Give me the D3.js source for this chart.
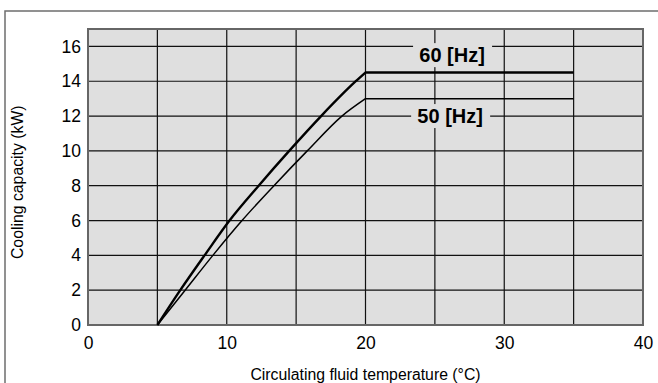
<!DOCTYPE html>
<html>
<head>
<meta charset="utf-8">
<script src="https://cdn.jsdelivr.net/npm/d3@7"></script>
<style>
  body { margin: 0; background: #fff; }
  svg { display: block; font-family: "Liberation Sans", Arial, sans-serif; }
</style>
</head>
<body>
<script>
const width = 658;
const height = 383;

// series
const temp60 = [5, 6.65, 8.4, 10.2, 12.3, 14.5, 16.8, 19.3, 20, 35];
const cap60 = [0, 2, 4, 6, 8, 10, 12, 14, 14.5, 14.5];
const temp50 = [5, 7.0, 9.0, 11.1, 13.4, 15.8, 18.3, 20, 35];
const cap50 = [0, 2, 4, 6, 8, 10, 12, 13, 13];
const xTicks = [0, 10, 20, 30, 40];
const yTicks = [0, 2, 4, 6, 8, 10, 12, 14, 16];
const xGrid = [5, 10, 15, 20, 25, 30, 35];
const yGrid = [2, 4, 6, 8, 10, 12, 14, 16];
const breakTemp = 20;

const margin = {left: 88, right: 15, top: 29, bottom: 58};

const x = d3.scaleLinear().domain([0, 40]).range([margin.left, width - margin.right]);
const y = d3.scaleLinear().domain([0, 17]).range([height - margin.bottom, margin.top]);

const svg = d3.select("body").append("svg")
    .attr("width", width)
    .attr("height", height);

// outer frame, runs off the right and bottom edges
svg.append("rect")
    .attr("x", 5).attr("y", 11)
    .attr("width", width + 20).attr("height", height + 20)
    .attr("fill", "none")
    .attr("stroke", "#6e6e6e")
    .attr("stroke-width", 1.5);

svg.append("rect")
    .attr("x", x(0)).attr("y", y(17))
    .attr("width", x(40) - x(0)).attr("height", y(0) - y(17))
    .attr("fill", "#dfdfdf");

const grid = svg.append("g")
    .attr("stroke", "#111")
    .attr("stroke-width", 1.2);

grid.selectAll(".vx")
  .data(xGrid)
  .join("line")
    .attr("x1", d => x(d)).attr("x2", d => x(d))
    .attr("y1", y(0)).attr("y2", y(17));

grid.selectAll(".hy")
  .data(yGrid)
  .join("line")
    .attr("x1", x(0)).attr("x2", x(40))
    .attr("y1", d => y(d)).attr("y2", d => y(d));

svg.append("rect")
    .attr("x", x(0)).attr("y", y(17))
    .attr("width", x(40) - x(0)).attr("height", y(0) - y(17))
    .attr("fill", "none")
    .attr("stroke", "#666")
    .attr("stroke-width", 2);

const rise = d3.line()
    .x(d => x(d[0]))
    .y(d => y(d[1]))
    .curve(d3.curveMonotoneX);
const flat = d3.line()
    .x(d => x(d[0]))
    .y(d => y(d[1]));

const series = [
  {pts: d3.zip(temp50, cap50), w: 1.5},
  {pts: d3.zip(temp60, cap60), w: 2.4}
];

series.forEach(s => {
  const up = s.pts.filter(p => p[0] <= breakTemp);
  const rest = s.pts.filter(p => p[0] >= breakTemp);
  svg.append("path")
      .attr("d", rise(up) + flat(rest).replace(/^M/, "L"))
      .attr("fill", "none")
      .attr("stroke", "#000")
      .attr("stroke-linejoin", "miter")
      .attr("stroke-width", s.w);
});

// series labels sit on a patch of background
const labels = [
  {text: "60 [Hz]", t: 26.24, v: 15.5},
  {text: "50 [Hz]", t: 26.1, v: 12}
];
const lab = svg.append("g").selectAll("g")
  .data(labels)
  .join("g")
    .attr("transform", d => `translate(${x(d.t)},${y(d.v)})`);
lab.append("rect")
    .attr("x", -39).attr("y", -12)
    .attr("width", 79).attr("height", 24)
    .attr("fill", "#dfdfdf");
lab.append("text")
    .attr("text-anchor", "middle")
    .attr("dy", "0.36em")
    .attr("font-size", 20)
    .attr("font-weight", "bold")
    .text(d => d.text);

svg.append("g")
    .attr("transform", `translate(0,${y(0)})`)
    .call(d3.axisBottom(x).tickValues(xTicks).tickSize(0).tickPadding(12))
    .call(g => g.select(".domain").remove())
    .call(g => g.selectAll("text").attr("font-size", 17.5).attr("font-family", null).attr("fill", "#000"));

svg.append("g")
    .attr("transform", `translate(${x(0)},0)`)
    .call(d3.axisLeft(y).tickValues(yTicks).tickSize(0).tickPadding(7))
    .call(g => g.select(".domain").remove())
    .call(g => g.selectAll("text").attr("font-size", 17.5).attr("font-family", null).attr("fill", "#000"));

svg.append("text")
    .attr("x", x(20)).attr("y", 380)
    .attr("text-anchor", "middle")
    .attr("font-size", 15.8)
    .text("Circulating fluid temperature (°C)");

svg.append("text")
    .attr("transform", `translate(23,${y(8.2)}) rotate(-90)`)
    .attr("text-anchor", "middle")
    .attr("font-size", 15.8)
    .text("Cooling capacity (kW)");
</script>
</body>
</html>
